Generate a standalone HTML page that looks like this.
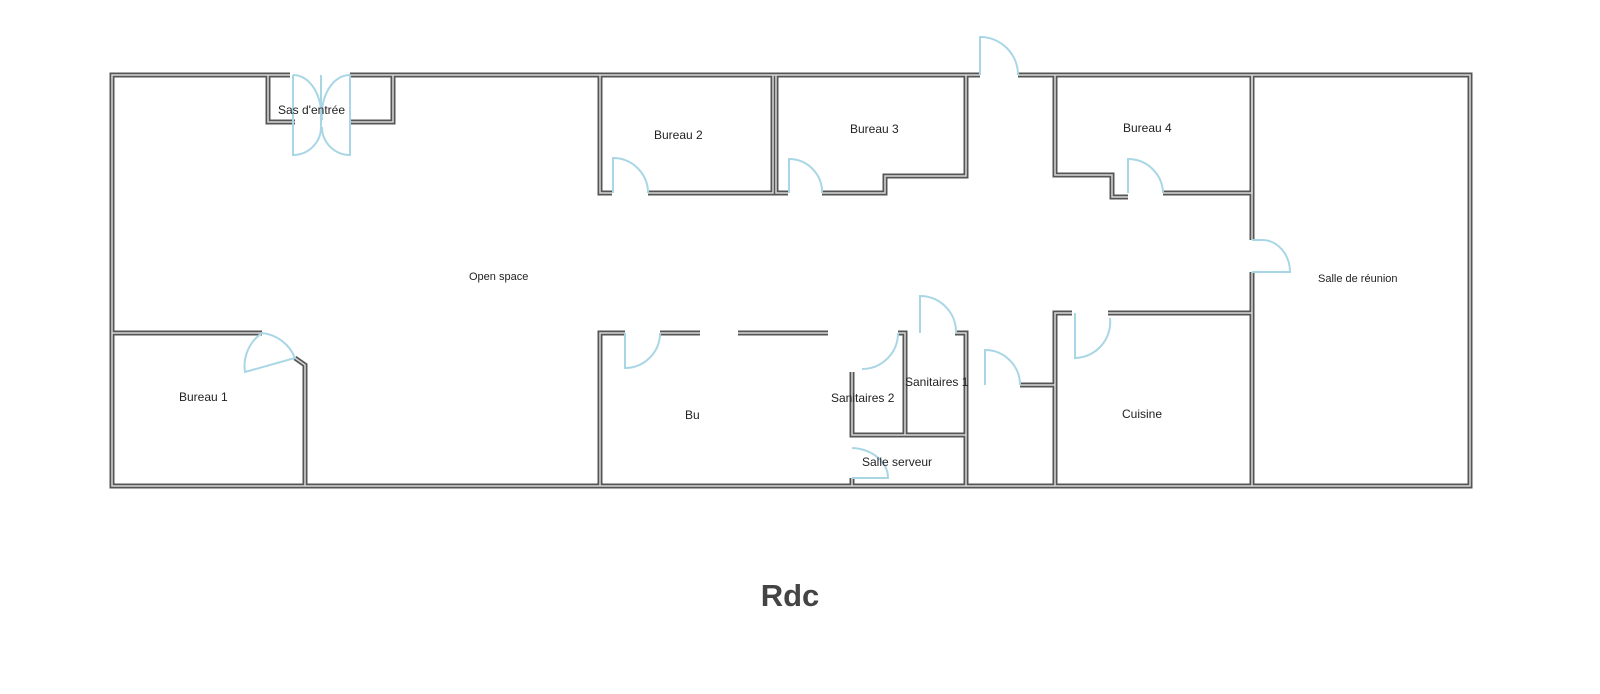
<!DOCTYPE html>
<html><head><meta charset="utf-8"><style>
html,body{margin:0;padding:0;background:#fff;}
svg{display:block}
text{font-family:"Liberation Sans",sans-serif;font-size:12px;fill:#222}
</style></head><body>
<svg width="1600" height="694" viewBox="0 0 1600 694" xmlns="http://www.w3.org/2000/svg">
<defs>
<g id="w" fill="none">
<path d="M290 75 H112 V486 H1470 V75 H1018"/>
<path d="M350 75 H980"/>
<path d="M268 75 V122 H295"/>
<path d="M350 122 H393 V75"/>
<path d="M600 75 V193 H612"/>
<path d="M648 193 H773 V75"/>
<path d="M776 75 V193 H788"/>
<path d="M822 193 H885 V176 H966 V75"/>
<path d="M1055 75 V175 H1112 V197 H1128"/>
<path d="M1163 193 H1252 V75"/>
<path d="M1252 238 H1252"/>
<path d="M1252 75 V240"/>
<path d="M1252 272 V486"/>
<path d="M112 333 H262"/>
<path d="M295 358 L305 365 V486"/>
<path d="M625 333 H600 V486"/>
<path d="M660 333 H700"/>
<path d="M738 333 H828"/>
<path d="M898 333 H905 V435"/>
<path d="M955 333 H966 V486"/>
<path d="M852 372 V435 H966"/>
<path d="M852 478 V486"/>
<path d="M1020 385 H1055"/>
<path d="M1055 486 V313 H1072"/>
<path d="M1108 313 H1252"/>
</g>
</defs>
<use href="#w" stroke="#555" stroke-width="5"/>
<use href="#w" stroke="#d8d8d8" stroke-width="1.5"/>
<g fill="none" stroke="#a9d6e5" stroke-width="2">
<path d="M293 75 V155 A28 28 0 0 0 321 127 M321 75 V127"/>
<path d="M293 75 A28 40 0 0 1 321 120 M350 75 V155 A28 28 0 0 1 322 127"/>
<path d="M350 75 A28 40 0 0 0 322 120"/>
<path d="M980 75 V37 A38 38 0 0 1 1018 75"/>
<path d="M613 193 V158 A35 35 0 0 1 648 193"/>
<path d="M789 193 V159 A33 33 0 0 1 822 193"/>
<path d="M1128 193 V159 A35 35 0 0 1 1163 193"/>
<path d="M1252 240 H1262 A28 32 0 0 1 1290 272 H1252"/>
<path d="M262 333 A40 40 0 0 1 295 358 L245 372 A40 40 0 0 1 262 333"/>
<path d="M625 333 V368 A35 35 0 0 0 660 333"/>
<path d="M898 333 A36 36 0 0 1 862 369"/>
<path d="M920 333 V296 A36 36 0 0 1 956 333"/>
<path d="M985 385 V350 A35 35 0 0 1 1020 385"/>
<path d="M1075 313 V358 A36 36 0 0 0 1110 318"/>
<path d="M852 448 A38 30 0 0 1 888 478 H852"/>
</g>
<text x="278" y="114">Sas d'entrée</text>
<text x="654" y="139">Bureau 2</text>
<text x="850" y="133">Bureau 3</text>
<text x="1123" y="132">Bureau 4</text>
<text x="469" y="280" style="font-size:11px">Open space</text>
<text x="1318" y="282" style="font-size:11px">Salle de réunion</text>
<text x="179" y="401">Bureau 1</text>
<text x="685" y="419">Bu</text>
<text x="831" y="402">Sanitaires 2</text>
<text x="905" y="386">Sanitaires 1</text>
<text x="1122" y="418">Cuisine</text>
<text x="862" y="466">Salle serveur</text>
<text x="790" y="606" text-anchor="middle" style="font-size:31px;font-weight:bold;fill:#444">Rdc</text>
</svg>
</body></html>
